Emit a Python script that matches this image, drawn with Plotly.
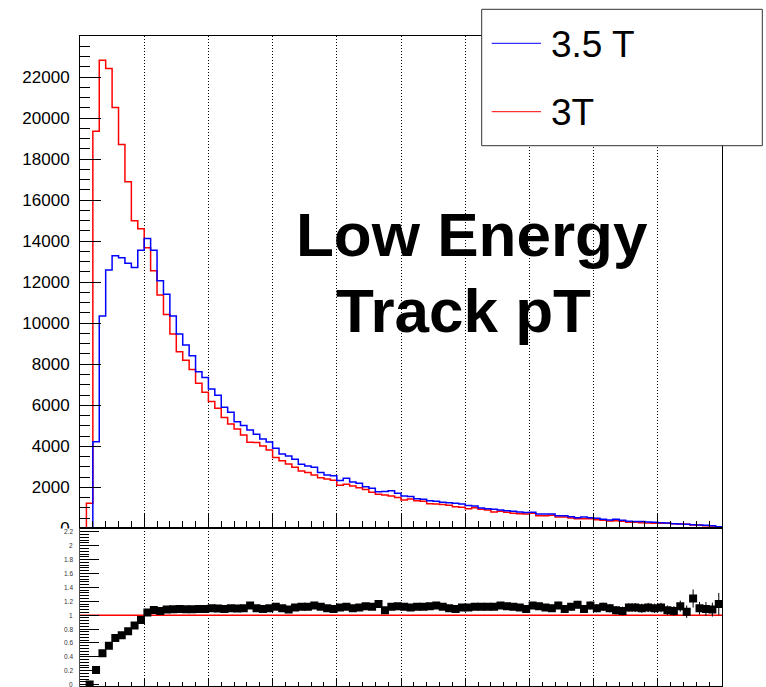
import numpy as np
import plotly.graph_objects as go

# ---------------- data ----------------
N_BINS = 100
X_MIN, X_MAX = 0.0, 10.0

# Track pT spectra, counts per bin (bins 0..99)
counts_3T = [
    0, 1220, 19360, 22820, 22420, 20520, 18710, 16890, 14990, 14600,
    13680, 12560, 11370, 10430, 9470, 8610, 8200, 7750, 7070, 6630,
    6180, 5850, 5410, 5090, 4840, 4550, 4200, 4180, 4020, 3820,
    3460, 3300, 3140, 2980, 2800, 2720, 2600, 2470, 2410, 2340,
    2100, 2150, 2070, 1980, 1900, 1760, 1660, 1630, 1580, 1500,
    1380, 1430, 1350, 1320, 1200, 1190, 1160, 1130, 1060, 1030,
    960, 1010, 930, 900, 800, 830, 785, 735, 715, 700,
    735, 620, 620, 640, 555, 555, 505, 475, 475, 475,
    425, 390, 360, 375, 345, 295, 295, 280, 265, 250,
    250, 250, 230, 215, 200, 165, 150, 130, 115, 85,
]

counts_3p5T = [
    0, 0, 4220, 10350, 12590, 13290, 13190, 12920, 12720, 13560,
    14130, 13560, 12070, 11410, 10350, 9470, 8940, 8420, 7640, 7360,
    6790, 6490, 5900, 5660, 5200, 5010, 4800, 4590, 4360, 4210,
    3900, 3630, 3530, 3370, 3120, 3040, 2980, 2720, 2600, 2570,
    2330, 2440, 2260, 2200, 2030, 1950, 1790, 1800, 1840, 1710,
    1580, 1550, 1450, 1420, 1350, 1320, 1270, 1250, 1220, 1190,
    1110, 1090, 990, 960, 930, 900, 860, 830, 800, 770,
    780, 700, 700, 700, 620, 620, 570, 520, 555, 520,
    490, 440, 410, 440, 390, 345, 330, 330, 310, 295,
    280, 260, 230, 215, 200, 180, 165, 150, 130, 85,
]

# Ratio 3.5 T / 3 T for bins 1..99
ratio_vals = [
    0.00, 0.21, 0.45, 0.56, 0.67, 0.71, 0.77, 0.85, 0.93,
    1.04, 1.075, 1.06, 1.08, 1.085, 1.09, 1.085, 1.085, 1.09, 1.09,
    1.10, 1.095, 1.09, 1.10, 1.095, 1.10, 1.14, 1.10, 1.09, 1.10,
    1.12, 1.10, 1.08, 1.11, 1.12, 1.12, 1.14, 1.12, 1.10, 1.09,
    1.11, 1.12, 1.10, 1.11, 1.13, 1.12, 1.16, 1.07, 1.12, 1.13,
    1.12, 1.11, 1.12, 1.12, 1.13, 1.14, 1.12, 1.10, 1.09, 1.11,
    1.11, 1.12, 1.12, 1.12, 1.12, 1.14, 1.13, 1.12, 1.11, 1.09,
    1.14, 1.13, 1.11, 1.10, 1.14, 1.09, 1.12, 1.15, 1.09, 1.14,
    1.10, 1.12, 1.10, 1.07, 1.06, 1.11, 1.11, 1.10, 1.11, 1.10,
    1.11, 1.07, 1.06, 1.13, 1.05, 1.24, 1.10, 1.09, 1.08, 1.16,
]
ratio_errs = [
    0.00, 0.005, 0.006, 0.007, 0.007, 0.008, 0.008, 0.009, 0.009,
    0.010, 0.010, 0.011, 0.011, 0.012, 0.012, 0.013, 0.013, 0.014, 0.014,
    0.015, 0.015, 0.016, 0.016, 0.017, 0.017, 0.018, 0.018, 0.019, 0.019,
    0.020, 0.021, 0.021, 0.022, 0.022, 0.023, 0.023, 0.024, 0.024, 0.025,
    0.026, 0.026, 0.027, 0.027, 0.028, 0.029, 0.030, 0.030, 0.031, 0.031,
    0.032, 0.032, 0.033, 0.034, 0.035, 0.035, 0.036, 0.036, 0.037, 0.038,
    0.039, 0.040, 0.041, 0.042, 0.043, 0.044, 0.045, 0.046, 0.047, 0.048,
    0.049, 0.050, 0.051, 0.052, 0.053, 0.054, 0.055, 0.056, 0.057, 0.058,
    0.059, 0.060, 0.061, 0.062, 0.063, 0.064, 0.065, 0.066, 0.067, 0.068,
    0.069, 0.070, 0.070, 0.080, 0.090, 0.130, 0.090, 0.100, 0.100, 0.160,
]

count_tick_vals = [0, 2000, 4000, 6000, 8000, 10000, 12000, 14000, 16000, 18000, 20000, 22000]
count_tick_text = ["0", "2000", "4000", "6000", "8000", "10000", "12000", "14000",
                   "16000", "18000", "20000", "22000"]
ratio_tick_vals = [0, 0.2, 0.4, 0.6, 0.8, 1, 1.2, 1.4, 1.6, 1.8, 2, 2.2]
ratio_tick_text = ["0", "0.2", "0.4", "0.6", "0.8", "1", "1.2", "1.4", "1.6", "1.8", "2", "2.2"]

series_names = ["3.5 T", "3T"]
series_colors = ["#0000ff", "#ff0000"]
caption_lines = ["Low Energy", "Track pT"]
REF_RATIO = 1.0

# ---------------- figure ----------------
FONT = "Liberation Sans, Arial, Helvetica, sans-serif"
W, H = 766, 687
ML, MR, MT, MB = 80, 44, 36, 1
PW, PH = W - ML - MR, H - MT - MB
SPLIT = 0.2425  # fraction of plot height given to the ratio pad

def px_x(p):
    return (p - ML) / PW

def px_y(p):
    return (H - MB - p) / PH

edges = np.linspace(X_MIN, X_MAX, N_BINS + 1)
centers = 0.5 * (edges[:-1] + edges[1:])

def step_y(vals):
    return list(vals) + [vals[-1]]

fig = go.Figure()

# upper pad: histograms
fig.add_trace(go.Scatter(
    x=edges, y=step_y(counts_3T), mode="lines", line_shape="hv",
    line=dict(color=series_colors[1], width=1.5),
    xaxis="x", yaxis="y", showlegend=False, hoverinfo="skip"))
fig.add_trace(go.Scatter(
    x=edges, y=step_y(counts_3p5T), mode="lines", line_shape="hv",
    line=dict(color=series_colors[0], width=1.5),
    xaxis="x", yaxis="y", showlegend=False, hoverinfo="skip"))

# lower pad: unity line and ratio points
fig.add_trace(go.Scatter(
    x=[X_MIN, X_MAX], y=[REF_RATIO, REF_RATIO], mode="lines",
    line=dict(color="#ff0000", width=1.5),
    xaxis="x2", yaxis="y2", showlegend=False, hoverinfo="skip"))
fig.add_trace(go.Scatter(
    x=centers[1:], y=ratio_vals, mode="markers",
    marker=dict(symbol="square", size=8, color="black", line=dict(width=0)),
    error_y=dict(type="data", array=ratio_errs, color="black", thickness=1, width=0),
    xaxis="x2", yaxis="y2", showlegend=False, hoverinfo="skip"))

axis_common = dict(
    showline=True, mirror=True, linecolor="black", linewidth=1,
    zeroline=False, tickcolor="black", ticks="inside", automargin=False,
)
xgrid = dict(showgrid=True, gridcolor="black", gridwidth=1, griddash="1px,2px")

fig.update_layout(
    width=W, height=H,
    margin=dict(l=ML, r=MR, t=MT, b=MB, pad=0, autoexpand=False),
    paper_bgcolor="white", plot_bgcolor="white",
    font=dict(family=FONT, color="black"),
    showlegend=False,
    xaxis=dict(domain=[0, 1], anchor="y", range=[X_MIN, X_MAX],
               tick0=0, dtick=1, ticklen=14, showticklabels=False,
               minor=dict(ticks="inside", ticklen=7, dtick=0.2, tickcolor="black",
                          showgrid=False),
               **xgrid, **axis_common),
    yaxis=dict(domain=[SPLIT, 1], anchor="x", range=[0, 24000],
               tickvals=count_tick_vals, ticktext=count_tick_text,
               ticklen=21, showgrid=False,
               tickfont=dict(size=17, family=FONT, color="black"),
               ticklabelstandoff=6,
               minor=dict(ticks="inside", ticklen=10, dtick=500, tick0=0,
                          tickcolor="black", showgrid=False),
               **axis_common),
    xaxis2=dict(domain=[0, 1], anchor="y2", range=[X_MIN, X_MAX],
                tick0=0, dtick=1, ticklen=8, showticklabels=False,
                minor=dict(ticks="inside", ticklen=4, dtick=0.2, tickcolor="black",
                           showgrid=False),
                **xgrid, **axis_common),
    yaxis2=dict(domain=[0, SPLIT], anchor="x2", range=[-0.02, 2.25],
                tickvals=ratio_tick_vals, ticklen=19, showgrid=False,
                showticklabels=False,
                minor=dict(ticks="inside", ticklen=9, dtick=0.04, tick0=0,
                           tickcolor="black", showgrid=False),
                **axis_common),
)

shapes = []
# the lower pad masks the part of the upper pad's labels that runs below it
shapes.append(dict(type="rect", xref="paper", yref="paper",
                   x0=-0.2, x1=px_x(79.3), y0=-0.05, y1=SPLIT,
                   fillcolor="white", line=dict(width=0), layer="above"))
# legend box
shapes.append(dict(type="rect", xref="paper", yref="paper",
                   x0=px_x(481.7), x1=px_x(762.3), y0=px_y(145.7), y1=px_y(9.3),
                   fillcolor="white", line=dict(color="#333333", width=1), layer="above"))
legend_rows = [43.3, 111.7]
for name, color, row in zip(series_names, series_colors, legend_rows):
    shapes.append(dict(type="line", xref="paper", yref="paper",
                       x0=px_x(491.7), x1=px_x(541), y0=px_y(row), y1=px_y(row),
                       line=dict(color=color, width=1), layer="above"))
fig.update_layout(shapes=shapes)

annotations = []
for name, row in zip(series_names, legend_rows):
    annotations.append(dict(text=name, xref="paper", yref="paper",
                            x=px_x(549), y=px_y(row + 1), xanchor="left", yanchor="middle",
                            showarrow=False, font=dict(size=37, family=FONT, color="black")))
# caption
for text, cx, cy in zip(caption_lines, [472, 464], [235, 310.5]):
    annotations.append(dict(text=text, xref="paper", yref="paper",
                            x=px_x(cx), y=px_y(cy), xanchor="center", yanchor="middle",
                            showarrow=False,
                            font=dict(size=62, family=FONT, color="black", weight="bold")))
# ratio pad tick labels
for v, t in zip(ratio_tick_vals, ratio_tick_text):
    annotations.append(dict(text=t, xref="paper", yref="y2",
                            x=px_x(75), y=v, xanchor="right", yanchor="middle",
                            showarrow=False, font=dict(size=6.5, family=FONT, color="#333333")))
fig.update_layout(annotations=annotations)

fig.write_html("out.html")
